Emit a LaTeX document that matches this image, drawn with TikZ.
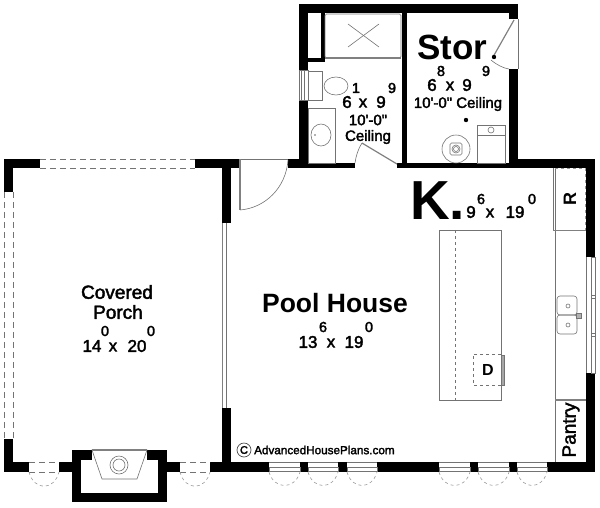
\documentclass[tikz,border=0pt]{standalone}
\usepackage{fontspec}
\setmainfont{Liberation Sans}
\newfontfamily\planfont[FakeBold=2.2]{Liberation Sans}
\newfontfamily\planbold{Liberation Sans Bold}
\tikzset{
wall/.style={fill=black,draw=none},
fine/.style={draw=black!55,line width=0.6pt},
gline/.style={draw=black!50,line width=1.2pt},
dashwin/.style={draw=black!55,line width=0.8pt,dash pattern=on 6pt off 4pt},
swing/.style={draw=black!40,line width=0.6pt,dash pattern=on 3pt off 3pt},
txt/.style={inner sep=0pt,font=\planfont\fontsize{#1}{#1}\selectfont},
btxt/.style={inner sep=0pt,font=\planbold\fontsize{#1}{#1}\selectfont}
}
\begin{document}
\begin{tikzpicture}[x=1pt,y=-1pt]
\useasboundingbox (0,0) rectangle (600,507);
% walls of the annex
\fill[wall] (299,4) rectangle (518,13);
\fill[wall] (299,4) rectangle (308,70);
\fill[wall] (299,100) rectangle (308,168);
\fill[wall] (307,58) rectangle (325,62);
\fill[wall] (321,13) rectangle (325,62);
\fill[wall] (402,13) rectangle (407,168);
\fill[wall] (509,4) rectangle (518,19);
\fill[wall] (509,69) rectangle (518,168);
\fill[wall] (299,163) rectangle (355,168);
\fill[wall] (397,163) rectangle (518,168);
% walls of the main room
\fill[wall] (4,159) rectangle (40,168);
\fill[wall] (4,159) rectangle (13,192);
\fill[wall] (195,159) rectangle (240,168);
\fill[wall] (222,159) rectangle (231,223);
\fill[wall] (288,159) rectangle (308,168);
\fill[wall] (509,159) rectangle (595,168);
\fill[wall] (586,159) rectangle (595,257);
\fill[wall] (586,373) rectangle (595,472);
\fill[wall] (547,462) rectangle (595,472);
\fill[wall] (509,462) rectangle (517,472);
\fill[wall] (470,462) rectangle (478,472);
\fill[wall] (377,462) rectangle (439,472);
\fill[wall] (338,462) rectangle (347,472);
\fill[wall] (300,462) rectangle (308,472);
\fill[wall] (210,462) rectangle (269,472);
\fill[wall] (222,408) rectangle (231,472);
\fill[wall] (4,439) rectangle (13,472);
\fill[wall] (4,462) rectangle (29,472);
\fill[wall] (59,462) rectangle (72,472);
\fill[wall] (167,462) rectangle (180,472);
% chimney
\fill[wall] (72,450) rectangle (81,502);
\fill[wall] (158,450) rectangle (167,502);
\fill[wall] (72,493) rectangle (167,502);
\fill[wall] (72,450) rectangle (92,460);
\fill[wall] (147,450) rectangle (167,460);
\draw[fine,fill=white] (92,450) -- (102,479) -- (137,479) -- (147,450) -- cycle;
\draw[gline] (92,450) -- (147,450);
\draw[fine] (119,465) circle (9);
\draw[fine] (119,465) circle (6);
% open sides of the porch
\draw[dashwin] (40,159) -- (195,159);
\draw[dashwin] (40,168) -- (195,168);
\draw[dashwin] (4.5,192) -- (4.5,439);
\draw[dashwin] (13,192) -- (13,439);
\foreach \xa/\xb in {29/59,180/210}{
  \draw[dashwin] (\xa,462) -- (\xb,462);
  \draw[dashwin] (\xa,472) -- (\xb,472);
  \draw[swing] (\xa,472) .. controls (\xa+5,491) and (\xb-5,491) .. (\xb,472);
}
% french doors along the bottom
\foreach \xa/\xb in {269/300,308/338,347/377,439/470,478/509,517/547}{
  \draw[fine] (\xa,462) -- (\xb,462);
  \draw[fine] (\xa,467) rectangle (\xb,471);
  \draw[swing] (\xa,472) .. controls (\xa+5,490) and (\xb-5,490) .. (\xb,472);
}
% sliding door and entry door
\draw[gline,line width=0.9pt] (222.5,223) -- (222.5,408);
\draw[fine] (226,223) -- (226,408);
\draw[fine] (240,159) -- (288,159);
\draw[gline] (240,159) -- (240,210);
\draw[fine] (240,210) .. controls (265,208) and (286,188) .. (288,160);
% bath
\draw[fine,rounded corners=1.5pt] (325,14) rectangle (401,58);
\draw[gline] (325,58) -- (401,58);
\draw[fine] (348,24) -- (379,47);
\draw[fine] (348,47) -- (379,24);
\draw[fine] (308,71) rectangle (322,100);
\draw[fine] (336,86) ellipse (12 and 9);
\draw[fine] (299,70) rectangle (308,100);
\draw[fine] (301.5,70) -- (301.5,100);
\draw[fine] (304,70) -- (304,100);
\draw[fine] (308,108) rectangle (335,163);
\draw[fine] (321,135) ellipse (10 and 11);
\fill[black!60] (315,135) circle (0.8);
\draw[gline] (362,143) -- (397,164);
\draw[fine] (362,143) .. controls (358,149) and (356,156) .. (355,163);
% storage
\draw[fine] (518,19) -- (518,69);
\draw[gline] (514,20) -- (493,57);
\fill[black] (494,57) circle (2.2);
\draw[fine] (491,60) .. controls (497,65) and (503,68) .. (509,69);
\fill[black] (466,120) circle (2.2);
\draw[fine] (456,149) circle (14);
\draw[fine,rounded corners=1.5pt] (450,143) rectangle (462,155);
\draw[fine] (456,149) circle (4);
\draw[fine] (456,149) circle (2.5);
\draw[fine] (477,125) rectangle (505,163);
\draw[fine] (477,135) -- (505,135);
\draw[fine] (491,130) circle (3);
% kitchen
\draw[fine] (555,168) -- (555,462);
\draw[fine] (553,168) -- (553,230);
\draw[swing] (555,168) -- (585,168);
\draw[swing] (585,168) -- (585,230);
\draw[gline,line width=0.9pt] (553,230) -- (586,230);
\draw[gline] (555,400) -- (586,400);
\draw[fine,rounded corners=3pt] (557,296) rectangle (577,315);
\draw[fine,rounded corners=3pt] (557,315) rectangle (577,334);
\draw[fine] (568,306) circle (2);
\draw[fine] (568,325) circle (2);
\draw[fine] (577,315) -- (581,315);
\draw[fine,fill=black!30] (576,313) rectangle (581,318);
\draw[fine] (591,257) rectangle (595,373);
\draw[fine] (586,257) -- (586,373);
\draw[fine] (591,295) rectangle (595,298);
\draw[fine] (591,333) rectangle (595,336);
\draw[fine] (439,230) rectangle (501,400);
\draw[swing,draw=black!55] (455,230) -- (455,400);
\draw[swing,draw=black!55] (501,354) -- (473,354) -- (473,385) -- (501,385);
\draw[fine,fill=black!35] (501,355) rectangle (504,385);
% labels
\node[txt=19] (covered) at (117,292) {Covered};
\node[txt=19] (porch) at (118,312) {Porch};
\node[txt=17] (pa) at (92,346) {14};
\node[txt=17] (px) at (113,347) {x};
\node[txt=17] (pb) at (137,346) {20};
\node[txt=14.5] (pc) at (105,331) {0};
\node[txt=14.5] (pd) at (151,331) {0};
\node[btxt=26.5] (pool) at (335,303) {Pool House};
\node[txt=17] (ha) at (308,342) {13};
\node[txt=17] (hx) at (331,343) {x};
\node[txt=17] (hb) at (354,342) {19};
\node[txt=14.5] (hc) at (323,327) {6};
\node[txt=14.5] (hd) at (369,327) {0};
\node[btxt=35] (stor) at (452.5,47) {Stor};
\node[txt=14.5] (sa) at (441,71) {8};
\node[txt=14.5] (sb) at (486,71) {9};
\node[txt=17] (sc) at (432,85) {6};
\node[txt=17] (sx) at (450,86) {x};
\node[txt=17] (sd) at (467,85) {9};
\node[txt=15] (sceil) at (458,104) {10'-0" Ceiling};
\node[txt=14.5] (ba) at (356,88) {1};
\node[txt=14.5] (bb) at (392,88) {9};
\node[txt=17] (bc) at (347,102) {6};
\node[txt=17] (bx) at (363,103) {x};
\node[txt=17] (bd) at (381,102) {9};
\node[txt=15] (bh) at (368,120) {10'-0"};
\node[txt=15] (bceil) at (368,137) {Ceiling};
\node[btxt=55,anchor=base west] (kit) at (410,219) {K.};
\node[txt=17] (ka) at (471,212) {9};
\node[txt=14.5] (kb) at (481,199) {6};
\node[txt=17] (kx) at (490,213) {x};
\node[txt=17] (kc) at (515,212) {19};
\node[txt=14.5] (kd) at (532,199) {0};
\node[btxt=18,rotate=90] (frig) at (570,199) {R};
\node[txt=19,rotate=90] (pantry) at (571,430) {Pantry};
\node[btxt=16] (dw) at (488,370) {D};
\node[draw=black!70,line width=0.7pt,circle,minimum size=14pt,txt=11] (copy) at (244,450) {C};
\node[txt=11.7,anchor=west] (site) at (254,450) {AdvancedHousePlans.com};
\end{tikzpicture}
\end{document}
